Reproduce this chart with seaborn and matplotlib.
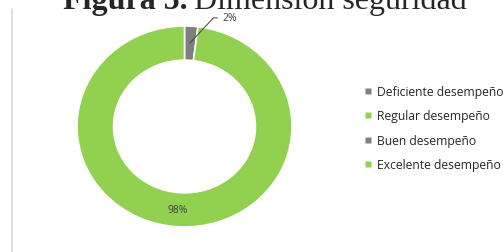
import matplotlib
matplotlib.use("Agg")
import matplotlib.pyplot as plt
from matplotlib.lines import Line2D
import seaborn as sns

categorias = ['Deficiente desempeño', 'Regular desempeño', 'Buen desempeño', 'Excelente desempeño']
valores = [2, 98, 0, 0]
colores = ['#7f7f7f', '#92d050', '#7f7f7f', '#92d050']

sns.set_theme(style='white')
plt.rcParams['font.family'] = ['Open Sans', 'DejaVu Sans']

W, H = 503, 253
fig = plt.figure(figsize=(W / 100, H / 100), dpi=100)
# el anillo del original esta un poco estirado en horizontal
cx, cy, rx, ry = 184.5, 127.5, 107.5, 100.5
ax = fig.add_axes([(cx - rx) / W, 1 - (cy + ry) / H, 2 * rx / W, 2 * ry / H])

# solo porciones no nulas en el anillo
vals = [v for v in valores if v > 0]
cols = [c for v, c in zip(valores, colores) if v > 0]
ax.pie(vals, colors=cols, startangle=90, counterclock=False, radius=1.0,
       wedgeprops=dict(width=0.34, edgecolor='white', linewidth=1.2))
ax.set_xlim(-1, 1)
ax.set_ylim(-1, 1)
ax.set_aspect('auto')
ax.axis('off')

# etiquetas
ax.annotate(f'{valores[0]}%', xy=(0.05, 0.83), xytext=(0.35, 1.08),
            fontsize=7.5, color='#404040', va='center', ha='left',
            arrowprops=dict(arrowstyle='-', color='#404040', lw=0.7, shrinkA=1, shrinkB=0,
                            connectionstyle='angle,angleA=0,angleB=47,rad=0'))
ax.text(-0.06, -0.83, f'{valores[1]}%', fontsize=7.5, color='#404040', ha='center', va='center')

# leyenda
handles = [Line2D([], [], marker='s', linestyle='none', markersize=4.5,
                  markerfacecolor=c, markeredgecolor='none') for c in colores]
fig.legend(handles, categorias, loc='upper left', bbox_to_anchor=(364 / W, 1 - 86 / H),
           frameon=False, fontsize=8.7, handlelength=0.6, handletextpad=0.45,
           labelspacing=0.95, borderaxespad=0, borderpad=0)

# linea vertical izquierda
fig.add_artist(Line2D([12 / W, 12 / W], [0, 1 - 10 / H], color='#d9d9d9', lw=1.2))

# titulo recortado
fig.canvas.draw()
r = fig.canvas.get_renderer()
t1 = fig.text(63 / W, 1 - 9 / H, 'Figura 5.', fontsize=23, fontweight='bold',
              family='Liberation Serif', ha='left', va='baseline')
bb = t1.get_window_extent(r)
fig.text((bb.x1 + 6) / W, 1 - 9 / H, 'Dimensión seguridad', fontsize=23,
         family='Liberation Serif', ha='left', va='baseline')

fig.savefig('out.png', dpi=100)
